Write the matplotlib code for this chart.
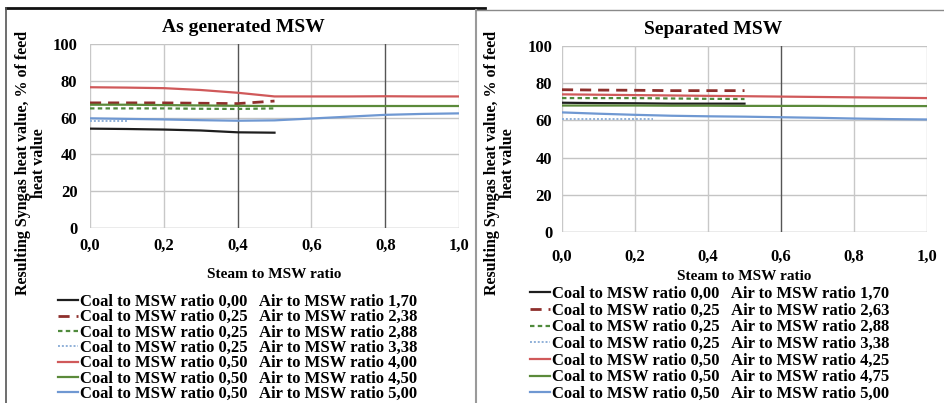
import matplotlib
matplotlib.use("Agg")
import matplotlib.pyplot as plt
from matplotlib.lines import Line2D
from matplotlib.ticker import FuncFormatter, MultipleLocator

plt.rcParams['font.family'] = ['Liberation Serif', 'DejaVu Serif']
plt.rcParams['font.weight'] = 'bold'

# Steam to MSW ratio sampling
steam_full = [0.0, 0.1, 0.2, 0.3, 0.4, 0.5, 0.6, 0.7, 0.8, 0.9, 1.0]
steam_half = [0.0, 0.1, 0.2, 0.3, 0.4, 0.5]
steam_quarter = [0.0, 0.1, 0.2, 0.25]
steam_tenth = [0.0, 0.1]

# As generated MSW: syngas heat value, % of feed heat value
gen_labels = [
    "Coal to MSW ratio 0,00   Air to MSW ratio 1,70",
    "Coal to MSW ratio 0,25   Air to MSW ratio 2,38",
    "Coal to MSW ratio 0,25   Air to MSW ratio 2,88",
    "Coal to MSW ratio 0,25   Air to MSW ratio 3,38",
    "Coal to MSW ratio 0,50   Air to MSW ratio 4,00",
    "Coal to MSW ratio 0,50   Air to MSW ratio 4,50",
    "Coal to MSW ratio 0,50   Air to MSW ratio 5,00",
]
gen_c000_a170 = [54.0, 53.8, 53.5, 53.0, 52.0, 51.8]
gen_c025_a238 = [68.0, 68.0, 68.0, 67.8, 67.6, 69.0]
gen_c025_a288 = [65.0, 65.0, 65.0, 64.8, 64.7, 65.0]
gen_c025_a338 = [58.0, 58.0]
gen_c050_a400 = [76.5, 76.3, 76.0, 75.0, 73.5, 71.5, 71.5, 71.5, 71.6, 71.5, 71.5]
gen_c050_a450 = [67.0, 67.0, 66.8, 66.6, 66.4, 66.3, 66.3, 66.3, 66.3, 66.3, 66.3]
gen_c050_a500 = [59.6, 59.3, 59.0, 58.6, 58.3, 58.5, 59.5, 60.5, 61.5, 62.0, 62.3]

# Separated MSW: syngas heat value, % of feed heat value
sep_labels = [
    "Coal to MSW ratio 0,00   Air to MSW ratio 1,70",
    "Coal to MSW ratio 0,25   Air to MSW ratio 2,63",
    "Coal to MSW ratio 0,25   Air to MSW ratio 2,88",
    "Coal to MSW ratio 0,25   Air to MSW ratio 3,38",
    "Coal to MSW ratio 0,50   Air to MSW ratio 4,25",
    "Coal to MSW ratio 0,50   Air to MSW ratio 4,75",
    "Coal to MSW ratio 0,50   Air to MSW ratio 5,00",
]
sep_c000_a170 = [69.5, 69.3, 69.2, 69.0, 69.0, 69.0]
sep_c025_a263 = [76.5, 76.3, 76.2, 76.0, 76.0, 76.0]
sep_c025_a288 = [72.0, 72.0, 72.0, 71.8, 71.6, 71.5]
sep_c025_a338 = [60.5, 60.5, 60.5, 60.5]
sep_c050_a425 = [74.0, 73.8, 73.6, 73.4, 73.2, 73.0, 72.8, 72.6, 72.4, 72.2, 72.0]
sep_c050_a475 = [68.0, 68.0, 68.0, 67.9, 67.9, 67.8, 67.8, 67.8, 67.7, 67.7, 67.7]
sep_c050_a500 = [64.3, 63.6, 63.0, 62.5, 62.2, 62.0, 61.7, 61.4, 61.0, 60.7, 60.5]

styles = [
    dict(color="#1e1e1e", ls="-", lw=1.6),
    dict(color="#8e2f2c", ls=(0, (4, 2.5)), lw=2.0),
    dict(color="#4f8a3c", ls=(0, (2, 1.5)), lw=1.6),
    dict(color="#8fb0d8", ls=(0, (1, 1)), lw=1.4),
    dict(color="#d0595a", ls="-", lw=1.6),
    dict(color="#5b8a3a", ls="-", lw=1.6),
    dict(color="#6f98d2", ls="-", lw=1.6),
]

fmt = FuncFormatter(lambda v, p: f"{v:.1f}".replace(".", ","))

fig = plt.figure(figsize=(9.45, 4.03), dpi=100)
W, H = 945.0, 403.0


def make_axes(rect_px, title, xs_list, ys_list, labels, dark_x, title_xy,
              ylab_x, xlab_y, xpad, ypad, leg_anchor, leg_spacing):
    x0, y0, x1, y1 = rect_px
    ax = fig.add_axes([x0 / W, 1 - y1 / H, (x1 - x0) / W, (y1 - y0) / H])
    handles = []
    for xs, ys, st in zip(xs_list, ys_list, styles):
        h, = ax.plot(xs, ys, color=st["color"], linestyle=st["ls"], lw=st["lw"])
        handles.append(h)
    ax.set_xlim(0, 1)
    ax.set_ylim(0, 100)
    ax.xaxis.set_major_locator(MultipleLocator(0.2))
    ax.yaxis.set_major_locator(MultipleLocator(20))
    ax.xaxis.set_major_formatter(fmt)
    for s in ax.spines.values():
        s.set_visible(False)
    ax.tick_params(length=0, labelsize=12)
    ax.tick_params(axis="x", pad=xpad)
    ax.tick_params(axis="y", pad=ypad)
    for t in ax.get_xticklabels() + ax.get_yticklabels():
        t.set_fontweight("bold")
    for yv in range(0, 101, 20):
        ax.axhline(yv, color="#c4c4c4" if yv else "#9a9a9a", lw=1.0, zorder=0)
    for xv in [0.0, 0.2, 0.4, 0.6, 0.8, 1.0]:
        c = "#555555" if any(abs(xv - d) < 1e-6 for d in dark_x) else "#c8c8c8"
        ax.axvline(xv, color=c, lw=1.0, zorder=0)
    fig.text(title_xy[0] / W, 1 - title_xy[1] / H, title, ha="center", va="center",
             fontsize=14, fontweight="bold")
    fig.text(ylab_x / W, 1 - 163 / H,
             "Resulting Syngas heat value, % of feed\nheat value",
             rotation=90, ha="center", va="center", fontsize=11.5,
             fontweight="bold", linespacing=0.95)
    fig.text((x0 + x1) / 2 / W, 1 - xlab_y / H, "Steam to MSW ratio",
             ha="center", va="center", fontsize=11, fontweight="bold")
    fig.legend(handles, labels, loc="upper left",
               bbox_to_anchor=(leg_anchor[0] / W, 1 - leg_anchor[1] / H),
               frameon=False, handlelength=1.2, handletextpad=0.15,
               labelspacing=leg_spacing, borderpad=0, borderaxespad=0,
               prop=dict(weight="bold", size=12))
    return ax


make_axes((90, 44, 459, 228), "As generated MSW",
          [steam_half, steam_half, steam_half, steam_tenth,
           steam_full, steam_full, steam_full],
          [gen_c000_a170, gen_c025_a238, gen_c025_a288, gen_c025_a338,
           gen_c050_a400, gen_c050_a450, gen_c050_a500],
          gen_labels, [0.4, 0.8], (243, 27), 31, 275, 7, 9, (58, 294), -0.04)

make_axes((562, 46, 927, 232), "Separated MSW",
          [steam_half, steam_half, steam_half, steam_quarter,
           steam_full, steam_full, steam_full],
          [sep_c000_a170, sep_c025_a263, sep_c025_a288, sep_c025_a338,
           sep_c050_a425, sep_c050_a475, sep_c050_a500],
          sep_labels, [0.6], (713, 29), 500, 277, 12, 7, (530, 286), 0.04)

# Panel frames
fig.add_artist(Line2D([6 / W, 485 / W], [1 - 8 / H, 1 - 8 / H], color="#111111", lw=2.0))
fig.add_artist(Line2D([6 / W, 6 / W], [1 - 8 / H, 0], color="#555555", lw=1.2))
fig.add_artist(Line2D([476 / W, 476 / W], [1 - 10 / H, 0], color="#9a9a9a", lw=1.5))
fig.add_artist(Line2D([476 / W, 1.0], [1 - 10 / H, 1 - 10 / H], color="#8a8a8a", lw=1.0))

fig.savefig("out.png", dpi=100)
